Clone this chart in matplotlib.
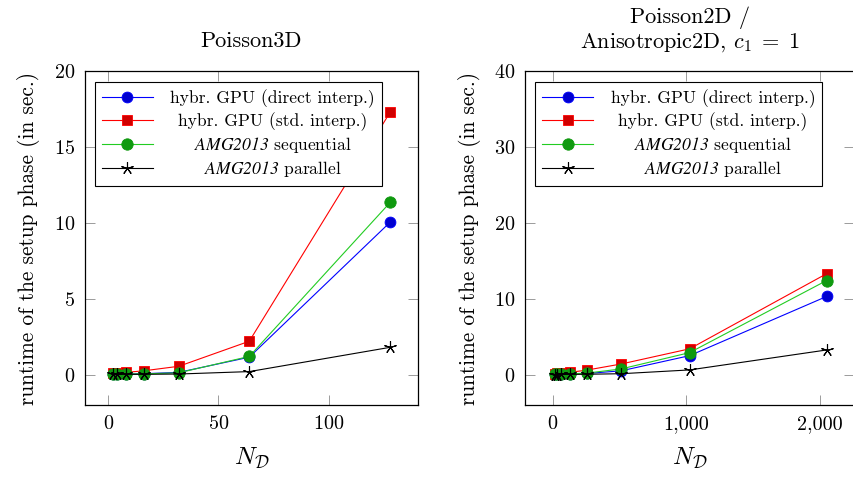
import numpy as np
import matplotlib
matplotlib.use('Agg')
import matplotlib.pyplot as plt
from matplotlib.path import Path
from matplotlib.ticker import FuncFormatter

plt.rcParams['font.family'] = 'serif'
plt.rcParams['font.serif'] = ['cmr10']
plt.rcParams['mathtext.fontset'] = 'custom'
plt.rcParams['mathtext.rm'] = 'cmr10'
plt.rcParams['mathtext.it'] = 'cmmi10'
plt.rcParams['mathtext.cal'] = 'cmsy10'
plt.rcParams['mathtext.sf'] = 'STIXGeneral:italic'
plt.rcParams['axes.formatter.use_mathtext'] = True
plt.rcParams['axes.unicode_minus'] = False

# Poisson3D setup times
n_3d = [2, 4, 8, 16, 32, 64, 128]
gpu_direct_3d = [0.02, 0.03, 0.04, 0.06, 0.15, 1.15, 10.05]
gpu_std_3d = [0.08, 0.1, 0.15, 0.25, 0.55, 2.2, 17.3]
amg_seq_3d = [0.02, 0.03, 0.04, 0.05, 0.12, 1.2, 11.35]
amg_par_3d = [0.01, 0.01, 0.02, 0.02, 0.04, 0.2, 1.8]

# Poisson2D / Anisotropic2D setup times
n_2d = [16, 32, 64, 128, 256, 512, 1024, 2048]
gpu_direct_2d = [0.02, 0.03, 0.05, 0.08, 0.15, 0.5, 2.5, 10.3]
gpu_std_2d = [0.1, 0.15, 0.2, 0.3, 0.6, 1.4, 3.4, 13.3]
amg_seq_2d = [0.02, 0.03, 0.05, 0.1, 0.2, 0.75, 2.9, 12.4]
amg_par_2d = [0.01, 0.01, 0.02, 0.03, 0.05, 0.12, 0.62, 3.25]

labels = ['hybr. GPU (direct interp.)', 'hybr. GPU (std. interp.)',
          r'$\mathsf{AMG2013}$ sequential', r'$\mathsf{AMG2013}$ parallel']

# circle with a cross inside (otimes)
c = Path.unit_circle()
s = np.sqrt(0.5)
cross = Path([(-s, -s), (s, s), (-s, s), (s, -s)],
             [Path.MOVETO, Path.LINETO, Path.MOVETO, Path.LINETO])
otimes = Path.make_compound_path(c, cross)

styles = [
    dict(color='#0000ff', marker='o', mfc='#0000d0', mec='#0000ff', ms=7.8),
    dict(color='#ff0000', marker='s', mfc='#d00000', mec='#ff0000', ms=7.8),
    dict(color='#22cc22', marker=otimes, mfc='#0f9a0f', mec='#119911', ms=8.2),
    dict(color='black', marker=(5, 2, 0), mfc='none', mec='black', ms=9, mew=0.8),
]

fig = plt.figure(figsize=(8.54, 4.79), dpi=100)
ax1 = fig.add_axes([0.0995, 0.1545, 0.39, 0.6973])
ax2 = fig.add_axes([0.6153, 0.1545, 0.3845, 0.6973])


def draw(ax, x, series, ylim, xlim, title):
    for y, st, lab in zip(series, styles, labels):
        st = dict(st)
        st.setdefault('mew', 0.6)
        ax.plot(x, y, lw=0.8, label=lab, **st)
    ax.set_xlim(*xlim)
    ax.set_ylim(*ylim)
    ax.set_title(title, fontsize=16, pad=17, linespacing=1.15)
    ax.set_xlabel(r'$N_{\mathcal{D}}$', fontsize=18, labelpad=9)
    ax.set_ylabel('runtime of the setup phase (in sec.)', fontsize=15.4, labelpad=10)
    ax.tick_params(direction='in', length=7, width=0.6, color='0.55',
                   top=True, right=True, labelsize=14.5, pad=7)
    for sp in ax.spines.values():
        sp.set_linewidth(0.9)
    leg = ax.legend(loc='upper left', bbox_to_anchor=(0.03, 0.966),
                    fancybox=False, edgecolor='black', framealpha=1,
                    fontsize=12.6, handlelength=2.9, handletextpad=1.0,
                    borderpad=0.4, labelspacing=0.24, borderaxespad=0)
    leg.get_frame().set_linewidth(0.8)
    return leg


leg1 = draw(ax1, n_3d, [gpu_direct_3d, gpu_std_3d, amg_seq_3d, amg_par_3d],
            (-2, 20), (-10.6, 140.6), 'Poisson3D')
ax1.set_xticks([0, 50, 100])
ax1.set_yticks([0, 5, 10, 15, 20])

leg2 = draw(ax2, n_2d, [gpu_direct_2d, gpu_std_2d, amg_seq_2d, amg_par_2d],
            (-4, 40), (-203, 2251), 'Poisson2D /\nAnisotropic2D, $c_1\\;=\\;1$')
ax2.set_xticks([0, 1000, 2000])
ax2.set_yticks([0, 10, 20, 30, 40])
ax2.xaxis.set_major_formatter(FuncFormatter(lambda v, p: f'{v:,.0f}'))

# center the legend entries in the text column
fig.canvas.draw()
r = fig.canvas.get_renderer()
for leg in (leg1, leg2):
    texts = leg.get_texts()
    widths = [t.get_window_extent(r).width for t in texts]
    wmax = max(widths)
    for t, w in zip(texts, widths):
        t.set_x((wmax - w) / 2)

fig.savefig('out.png', dpi=100)
